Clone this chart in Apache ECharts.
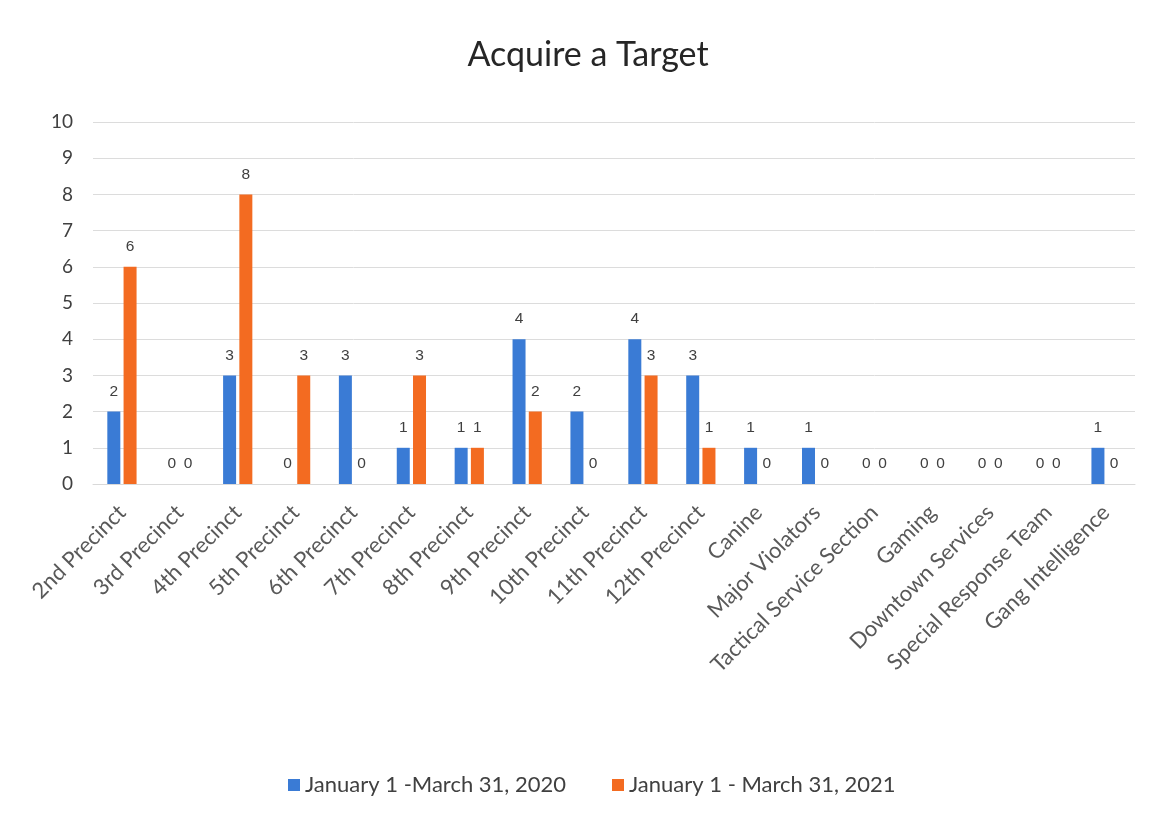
<!DOCTYPE html>
<html><head><meta charset="utf-8">
<script src="https://cdn.jsdelivr.net/npm/echarts@6/dist/echarts.min.js"></script>
<style>html,body{margin:0;padding:0;background:#fff}#c{width:1156px;height:820px}</style>
</head><body><div id="c"></div>
<script>
const categories = ["2nd Precinct","3rd Precinct","4th Precinct","5th Precinct","6th Precinct","7th Precinct","8th Precinct","9th Precinct","10th Precinct","11th Precinct","12th Precinct","Canine","Major Violators","Tactical Service Section","Gaming","Downtown Services","Special Response Team","Gang Intelligence"];
const values2020 = [2,0,3,0,3,1,1,4,2,4,3,1,1,0,0,0,0,1];
const values2021 = [6,0,8,3,0,3,1,2,0,3,1,0,0,0,0,0,0,0];
const seriesNames = ["January 1 -March 31, 2020","January 1 - March 31, 2021"];
const yTicks = [0,10,1];

const chart = echarts.init(document.getElementById('c'));
const lbl = {show:true,position:'top',distance:12,color:'#404040',fontSize:15.5,fontFamily:'Liberation Sans'};
chart.setOption({
  animation:false,
  title:{text:'Acquire a Target',left:583,top:33,textAlign:'center',textStyle:{fontFamily:'Lato',fontWeight:'normal',fontSize:34,color:'#262626'}},
  legend:{bottom:19,left:283,itemWidth:12,itemHeight:12,itemGap:46,icon:'rect',textStyle:{fontFamily:'Lato',fontSize:22,color:'#404040'},data:seriesNames},
  grid:{left:93,right:21,top:122,bottom:336,containLabel:false},
  xAxis:{type:'category',data:categories,axisTick:{show:false},axisLine:{lineStyle:{color:'#d9d9d9'}},
    axisLabel:{rotate:45,interval:0,fontFamily:'Lato',fontSize:22,color:'#595959',margin:25}},
  yAxis:{type:'value',min:yTicks[0],max:yTicks[1],interval:yTicks[2],axisLine:{show:false},axisTick:{show:false},
    splitLine:{lineStyle:{color:'#dcdcdc'}},axisLabel:{fontFamily:'Lato',fontSize:19,color:'#404040',margin:20}},
  series:[
    {name:seriesNames[0],type:'bar',data:values2020,barWidth:13,barGap:'25%',itemStyle:{color:'#3a7bd5'},label:lbl},
    {name:seriesNames[1],type:'bar',data:values2021,barWidth:13,itemStyle:{color:'#f36b21'},label:lbl}
  ]
});
</script></body></html>
